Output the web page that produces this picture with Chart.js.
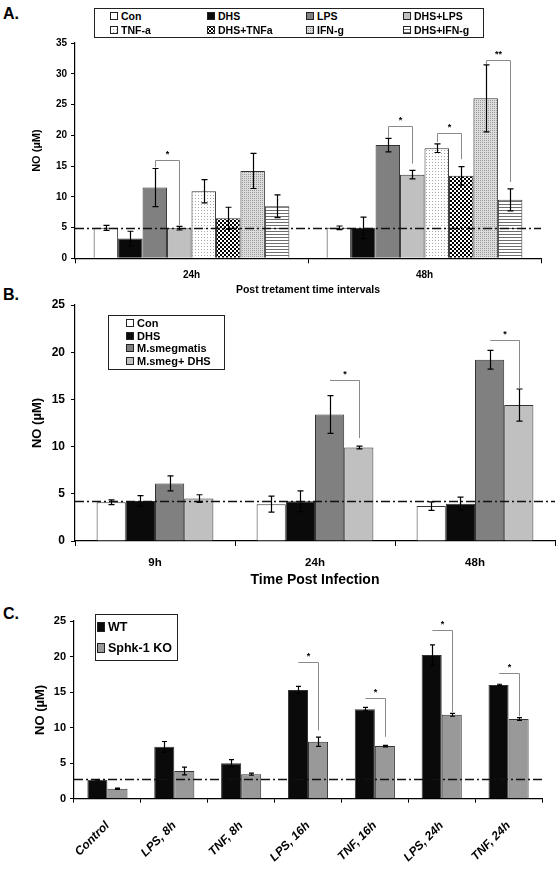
<!DOCTYPE html>
<html>
<head>
<meta charset="utf-8">
<script src="https://cdn.jsdelivr.net/npm/chart.js@4.4.1/dist/chart.umd.min.js"></script>
<style>
  body { margin: 0; background: #fff; }
  #page { position: relative; width: 558px; height: 871px; overflow: hidden;
          font-family: 'Liberation Sans', Arial, sans-serif; font-weight: bold; color: #000; }
  .tag { position: absolute; font-size: 16px; line-height: 16px; }
  canvas.panel { position: absolute; left: 0; }
  .legend { position: absolute; border: 1.5px solid #222; background: #fff; box-sizing: border-box; }
  .item { position: absolute; display: flex; align-items: center; white-space: nowrap; }
  .item canvas { margin-right: 3px; }
</style>
</head>
<body>
<div id="page">
  <div class="tag" style="left:3px;top:6px">A.</div>
  <div class="tag" style="left:3px;top:287px">B.</div>
  <div class="tag" style="left:3px;top:606px">C.</div>

  <canvas id="chartA" class="panel" width="558" height="300" style="top:0"></canvas>
  <canvas id="chartB" class="panel" width="558" height="300" style="top:290px"></canvas>
  <canvas id="chartC" class="panel" width="558" height="271" style="top:600px"></canvas>

  <div id="legendA" class="legend" style="left:94px;top:8px;width:390px;height:30px;font-size:10.5px"></div>
  <div id="legendB" class="legend" style="left:108px;top:315px;width:117px;height:55px;font-size:11px"></div>
  <div id="legendC" class="legend" style="left:95px;top:614px;width:83px;height:47px;font-size:12.5px"></div>
</div>

<script>
Chart.defaults.animation = false;
Chart.defaults.color = '#000';
Chart.defaults.font.family = "'Liberation Sans', Arial, sans-serif";
Chart.defaults.font.weight = 'bold';

// --- Panel A data (NO, uM) ---
const labelsA = ['24h', '48h'];
const seriesA = ['Con', 'DHS', 'LPS', 'DHS+LPS', 'TNF-a', 'DHS+TNFa', 'IFN-g', 'DHS+IFN-g'];
const meanA = [
  [4.95, 4.95],  // Con
  [3.2, 4.95],   // DHS
  [11.5, 18.4],  // LPS
  [4.9, 13.6],   // DHS+LPS
  [10.9, 17.9],  // TNF-a
  [6.5, 13.4],   // DHS+TNFa
  [14.2, 26.0],  // IFN-g
  [8.45, 9.5]    // DHS+IFN-g
];
const errA = [
  [0.4, 0.3],
  [1.2, 1.75],
  [3.1, 1.1],
  [0.3, 0.7],
  [1.9, 0.7],
  [1.8, 1.5],
  [2.85, 5.45],
  [1.85, 1.8]
];
const baseA = 5;
// [group, from series, to series, bracket level, left end, right end, mark]
const starsA = [
  [0, 2, 3, 16.0, 14.8, 5.4, '*'],
  [1, 2, 3, 21.5, 19.6, 15.4, '*'],
  [1, 4, 5, 20.4, 18.9, 16.1, '*'],
  [1, 6, 7, 32.3, 31.6, 12.4, '**']
];

// --- Panel B data ---
const labelsB = ['9h', '24h', '48h'];
const seriesB = ['Con', 'DHS', 'M.smegmatis', 'M.smeg+ DHS'];
const meanB = [
  [4.1, 3.9, 3.7],
  [4.25, 4.2, 3.95],
  [6.1, 13.4, 19.2],
  [4.5, 9.9, 14.4]
];
const errB = [
  [0.25, 0.85, 0.45],
  [0.55, 1.1, 0.7],
  [0.8, 2.0, 1.0],
  [0.4, 0.15, 1.7]
];
const baseB = 4.2;
const starsB = [
  [1, 2, 3, 17.1, 17.1, 10.9, '*'],
  [2, 2, 3, 21.3, 21.3, 16.2, '*']
];

// --- Panel C data ---
const labelsC = ['Control', 'LPS, 8h', 'TNF, 8h', 'LPS, 16h', 'TNF, 16h', 'LPS, 24h', 'TNF, 24h'];
const seriesC = ['WT', 'Sphk-1 KO'];
const meanC = [
  [2.65, 7.3, 5.0, 15.3, 12.6, 20.2, 16.0],
  [1.4, 3.9, 3.45, 8.0, 7.4, 11.8, 11.2]
];
const errC = [
  [0.05, 0.75, 0.5, 0.5, 0.25, 1.45, 0.1],
  [0.1, 0.55, 0.15, 0.65, 0.1, 0.2, 0.2]
];
const baseC = 2.8;
const starsC = [
  [3, 0, 1, 19.2, 19.2, 9.6, '*'],
  [4, 0, 1, 14.1, 14.1, 8.7, '*'],
  [5, 0, 1, 23.7, 23.7, 12.2, '*'],
  [6, 0, 1, 17.7, 17.7, 11.6, '*']
];

// --- Fill patterns ---
function makePattern(kind) {
  const c = document.createElement('canvas');
  const n = kind === 'checker' ? 4 : (kind === 'stripe' ? 3 : (kind === 'dots' ? 3 : 2));
  c.width = n; c.height = n;
  const g = c.getContext('2d');
  if (kind === 'dots') {           // sparse dots on white
    g.fillStyle = '#fff'; g.fillRect(0, 0, n, n);
    g.fillStyle = '#a8a8a8'; g.fillRect(0, 0, 1, 1);
  } else if (kind === 'checker') {  // black / white checkerboard
    g.fillStyle = '#000'; g.fillRect(0, 0, n, n);
    g.fillStyle = '#fff'; g.fillRect(0, 0, 2, 2); g.fillRect(2, 2, 2, 2);
  } else if (kind === 'fine') {     // fine grey stipple
    g.fillStyle = '#dcdcdc'; g.fillRect(0, 0, n, n);
    g.fillStyle = '#9a9a9a'; g.fillRect(0, 0, 1, 1);
  } else {                          // horizontal stripes
    g.fillStyle = '#fff'; g.fillRect(0, 0, n, n);
    g.fillStyle = '#6e6e6e'; g.fillRect(0, 0, n, 1);
  }
  return g.createPattern(c, 'repeat');
}

const fillsA = ['#ffffff', '#0a0a0a', '#808080', '#c0c0c0',
  makePattern('dots'), makePattern('checker'), makePattern('fine'), makePattern('stripe')];
const fillsB = ['#ffffff', '#0a0a0a', '#808080', '#c0c0c0'];
const fillsC = ['#0a0a0a', '#999999'];

// --- Error bars, baseline and significance brackets ---
function marksPlugin(means, errs, base, stars, cap) {
  return {
    id: 'marks',
    afterDatasetsDraw(chart) {
      const ctx = chart.ctx;
      const y = chart.scales.y;
      const area = chart.chartArea;
      ctx.save();

      // dash-dot baseline
      const by = Math.round(y.getPixelForValue(base)) + 0.5;
      ctx.strokeStyle = '#111';
      ctx.lineWidth = 1.6;
      ctx.setLineDash([9, 3, 2, 3]);
      ctx.beginPath();
      ctx.moveTo(area.left, by);
      ctx.lineTo(area.right, by);
      ctx.stroke();
      ctx.setLineDash([]);

      // error bars
      ctx.strokeStyle = '#000';
      ctx.lineWidth = 1.2;
      means.forEach((row, i) => {
        const meta = chart.getDatasetMeta(i);
        row.forEach((v, j) => {
          const e = errs[i][j];
          const x = Math.round(meta.data[j].x) + 0.5;
          const y1 = y.getPixelForValue(v + e);
          const y2 = y.getPixelForValue(v - e);
          ctx.beginPath();
          ctx.moveTo(x, y1); ctx.lineTo(x, y2);
          ctx.moveTo(x - cap, y1); ctx.lineTo(x + cap, y1);
          ctx.moveTo(x - cap, y2); ctx.lineTo(x + cap, y2);
          ctx.stroke();
        });
      });

      // brackets
      ctx.strokeStyle = '#8a8a8a';
      ctx.lineWidth = 1;
      ctx.fillStyle = '#000';
      ctx.font = "bold 9px 'Liberation Sans', Arial";
      ctx.textAlign = 'center';
      ctx.textBaseline = 'bottom';
      stars.forEach(([g, a, b, level, leftEnd, rightEnd, mark]) => {
        const x1 = Math.round(chart.getDatasetMeta(a).data[g].x) + 0.5;
        const x2 = Math.round(chart.getDatasetMeta(b).data[g].x) + 0.5;
        const yl = Math.round(y.getPixelForValue(level)) + 0.5;
        ctx.beginPath();
        ctx.moveTo(x1, y.getPixelForValue(leftEnd));
        ctx.lineTo(x1, yl);
        ctx.lineTo(x2, yl);
        ctx.lineTo(x2, y.getPixelForValue(rightEnd));
        ctx.stroke();
        ctx.fillText(mark, (x1 + x2) / 2, yl - 1);
      });
      ctx.restore();
    }
  };
}

// --- Chart builder ---
function buildChart(id, p) {
  const datasets = p.series.map((name, i) => ({
    label: name,
    data: p.means[i],
    backgroundColor: p.fills[i],
    borderColor: '#333',
    borderWidth: 1,
    categoryPercentage: p.catPct,
    barPercentage: 1.0
  }));
  return new Chart(document.getElementById(id), {
    type: 'bar',
    data: { labels: p.labels, datasets: datasets },
    options: {
      responsive: false,
      devicePixelRatio: 1,
      layout: { padding: { top: p.padTop, right: p.padRight, bottom: 0, left: 0 } },
      plugins: { legend: { display: false }, tooltip: { enabled: false } },
      scales: {
        x: {
          grid: { display: true, drawOnChartArea: false, color: '#000', tickLength: p.xTickLen, offset: true },
          border: { display: true, color: '#000', width: 1.2 },
          ticks: {
            font: p.xFont, padding: p.xTickPad, autoSkip: false,
            maxRotation: p.rot, minRotation: p.rot
          },
          title: p.xTitle ? { display: true, text: p.xTitle, font: p.xTitleFont, padding: { top: 0, bottom: p.xTitlePad } } : { display: false },
          afterFit: (s) => { s.height = p.xHeight; }
        },
        y: {
          min: 0, max: p.yMax,
          grid: { display: true, drawOnChartArea: false, color: '#000', tickLength: 4 },
          border: { display: true, color: '#000', width: 1.2 },
          ticks: { stepSize: 5, font: p.yFont, padding: p.yTickPad },
          title: { display: true, text: 'NO (\u00b5M)', font: p.yTitleFont, padding: { top: p.yTitlePad, bottom: 0 } },
          afterFit: (s) => { s.width = p.yWidth; }
        }
      }
    },
    plugins: [marksPlugin(p.means, p.errs, p.base, p.stars, p.cap)]
  });
}

buildChart('chartA', {
  labels: labelsA, series: seriesA, means: meanA, errs: errA, fills: fillsA,
  base: baseA, stars: starsA, cap: 3, catPct: 0.84,
  padTop: 43, padRight: 17, yMax: 35, yWidth: 75,
  yFont: { size: 10 }, yTickPad: 4, yTitleFont: { size: 11 }, yTitlePad: 30,
  xFont: { size: 10 }, xTickPad: 6, xTickLen: 5, rot: 0, xHeight: 41.7,
  xTitle: 'Post tretament time intervals', xTitleFont: { size: 10.5 }, xTitlePad: 3.5
});

buildChart('chartB', {
  labels: labelsB, series: seriesB, means: meanB, errs: errB, fills: fillsB,
  base: baseB, stars: starsB, cap: 3, catPct: 0.73,
  padTop: 15, padRight: 3, yMax: 25, yWidth: 75,
  yFont: { size: 12 }, yTickPad: 6, yTitleFont: { size: 13 }, yTitlePad: 29.5,
  xFont: { size: 11.5 }, xTickPad: 10, xTickLen: 5, rot: 0, xHeight: 49,
  xTitle: 'Time Post Infection', xTitleFont: { size: 14 }, xTitlePad: 1.5
});

buildChart('chartC', {
  labels: labelsC, series: seriesC, means: meanC, errs: errC, fills: fillsC,
  base: baseC, stars: starsC, cap: 2.5, catPct: 0.6,
  padTop: 21, padRight: 16, yMax: 25, yWidth: 74,
  yFont: { size: 11 }, yTickPad: 4, yTitleFont: { size: 13 }, yTitlePad: 33,
  xFont: { size: 12, style: 'italic' }, xTickPad: 16, xTickLen: 4, rot: 45, xHeight: 72.3,
  xTitle: null
});

// --- HTML legends ---
function swatch(fill, w, h) {
  const c = document.createElement('canvas');
  c.width = w; c.height = h;
  const g = c.getContext('2d');
  g.fillStyle = fill;
  g.fillRect(0, 0, w, h);
  g.strokeStyle = '#222';
  g.lineWidth = 1;
  g.strokeRect(0.5, 0.5, w - 1, h - 1);
  return c;
}

function buildLegend(id, names, fills, spots, sw) {
  const box = document.getElementById(id);
  names.forEach((name, i) => {
    const item = document.createElement('div');
    item.className = 'item';
    item.style.left = spots[i][0] + 'px';
    item.style.top = spots[i][1] + 'px';
    item.appendChild(swatch(fills[i], sw[0], sw[1]));
    item.appendChild(document.createTextNode(name));
    box.appendChild(item);
  });
}

buildLegend('legendA', seriesA, fillsA,
  [[15, 1], [112, 1], [211, 1], [308, 1], [15, 15], [112, 15], [211, 15], [308, 15]], [8, 8]);
buildLegend('legendB', seriesB, fillsB,
  [[17, 1], [17, 13.5], [17, 26], [17, 38.5]], [8, 8]);
buildLegend('legendC', seriesC, fillsC,
  [[1, 5], [1, 26]], [8, 10]);
</script>
</body>
</html>
